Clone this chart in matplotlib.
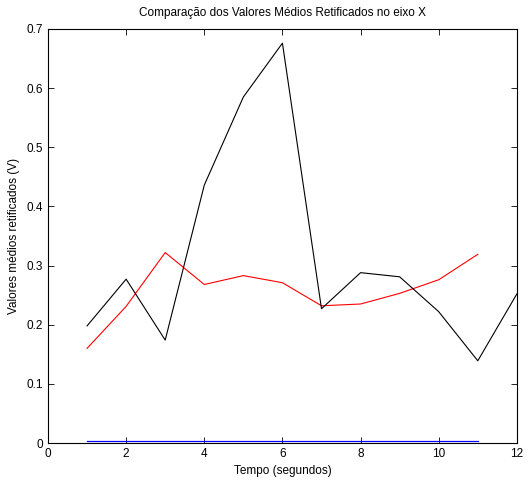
import numpy as np
import matplotlib
matplotlib.use('Agg')
import matplotlib.pyplot as plt

plt.rcParams['font.family'] = ['Liberation Sans', 'DejaVu Sans']

# valores medios retificados (eixo X)
t_black = [1, 2, 3, 4, 5, 6, 7, 8, 9, 10, 11, 12]
v_black = [0.198, 0.277, 0.174, 0.436, 0.585, 0.676, 0.227, 0.288, 0.281, 0.222, 0.139, 0.252]
t_red = [1, 2, 3, 4, 5, 6, 7, 8, 9, 10, 11]
v_red = [0.160, 0.231, 0.322, 0.268, 0.283, 0.271, 0.232, 0.235, 0.253, 0.276, 0.319]
t_blue = [1, 2, 3, 4, 5, 6, 7, 8, 9, 10, 11]
v_blue = [0.003] * 11

fig = plt.figure(figsize=(5.28, 4.82), dpi=100)
ax = fig.add_axes([0.0909, 0.0809, 0.888, 0.859])

ax.plot(t_blue, v_blue, color='#0000ff', lw=0.9)
ax.plot(t_red, v_red, color='#ff0000', lw=0.8)
ax.plot(t_black, v_black, color='black', lw=0.8)

ax.set_xlim(0, 12)
ax.set_ylim(0, 0.7)
ax.set_xticks(np.arange(0, 13, 2))
ax.set_yticks(np.arange(0, 0.71, 0.1))
ax.set_yticklabels(['0', '0.1', '0.2', '0.3', '0.4', '0.5', '0.6', '0.7'])
ax.tick_params(direction='in', top=True, right=True, labelsize=8.5, length=4, width=0.6)
for s in ax.spines.values():
    s.set_linewidth(0.8)

ax.set_title('Comparação dos Valores Médios Retificados no eixo X', fontsize=8.5, pad=9)
ax.set_xlabel('Tempo (segundos)', fontsize=8.5, labelpad=4)
ax.set_ylabel('Valores médios retificados (V)', fontsize=8.5, labelpad=5)

plt.savefig('out.png', dpi=100)
